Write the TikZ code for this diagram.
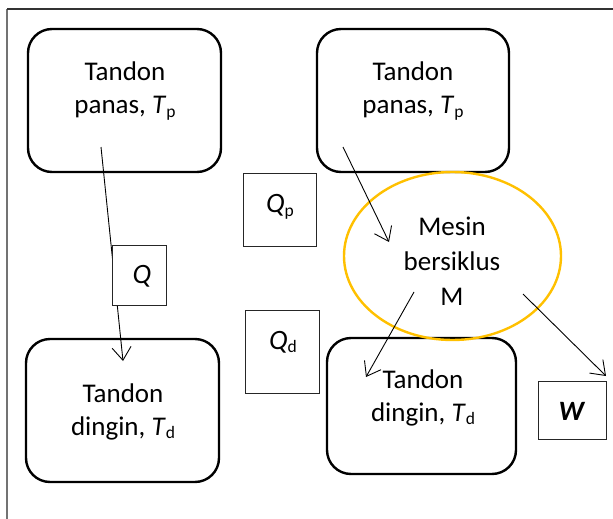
\documentclass[tikz,border=0pt]{standalone}
\usepackage{fontspec}
\setmainfont{Carlito}
\usetikzlibrary{shapes.geometric,arrows.meta}
\definecolor{gold}{HTML}{FFC000}
\newcommand\subtxt[1]{\raisebox{-0.12em}{\fontsize{17.5}{17.5}\selectfont #1}}
\begin{document}
\begin{tikzpicture}[x=1pt,y=-1pt,
  roundbox/.style={draw=black, line width=2.4pt, rounded corners=24pt, rectangle, inner sep=0pt},
  sqbox/.style={draw=black!85, line width=1pt, fill=white, rectangle, inner sep=0pt},
  lbl/.style={font=\fontsize{27}{33}\selectfont, align=center, inner sep=0pt},
  qlbl/.style={font=\fontsize{28}{33}\selectfont, align=center, inner sep=0pt},
  flow/.style={line width=0.9pt, -{Straight Barb[length=13pt,width=19pt]}}]
\path[use as bounding box] (0,0) rectangle (613,519);
% frame
\coordinate (fbl) at (7,519);
\coordinate (ftl) at (7,9);
\coordinate (ftr) at (613,9);
\draw[black!55, line width=1.5pt] (fbl) -- (ftl);
\draw[black!80, line width=2pt] (ftl) -- (ftr);
% reservoirs
\node[roundbox, minimum width=193pt, minimum height=143pt] (hotL) at (124.5,100.5) {};
\node[roundbox, minimum width=192pt, minimum height=143pt] (hotR) at (413,100.5) {};
\node[roundbox, minimum width=193pt, minimum height=143pt] (coldL) at (122.5,410.5) {};
\node[roundbox, minimum width=189pt, minimum height=136pt] (coldR) at (421.5,406) {};
\node[lbl] (tHotL) at (125,91) {Tandon\\panas, \textit{T}\subtxt{p}};
\node[lbl] (tHotR) at (413,91) {Tandon\\panas, \textit{T}\subtxt{p}};
\node[lbl] (tColdL) at (123,412) {Tandon\\dingin, \textit{T}\subtxt{d}};
\node[lbl] (tColdR) at (423,398) {Tandon\\dingin, \textit{T}\subtxt{d}};
% engine
\node[ellipse, draw=gold, line width=2.4pt, minimum width=217pt, minimum height=168pt, inner sep=0pt] (eng) at (452.5,256) {};
\node[lbl, font=\fontsize{27}{35}\selectfont] (tEng) at (452,261) {Mesin\\bersiklus\\M};
% arrows
\coordinate (a1s) at (101,147); \coordinate (a1e) at (123,361);
\coordinate (a2s) at (343,147); \coordinate (a2e) at (389,242);
\coordinate (a3s) at (414,292); \coordinate (a3e) at (366,377);
\coordinate (a4s) at (523,294); \coordinate (a4e) at (606,376);
\draw[flow] (a1s) -- (a1e);
\draw[flow] (a2s) -- (a2e);
\draw[flow] (a3s) -- (a3e);
\draw[flow] (a4s) -- (a4e);
% quantity boxes
\node[sqbox, minimum width=54pt, minimum height=60pt] (qbox) at (139,275) {};
\node[qlbl] (tq) at (142,276) {\textit{Q}};
\node[sqbox, minimum width=73pt, minimum height=73pt] (qpbox) at (279.5,209.5) {};
\node[qlbl] (tqp) at (280,207) {\textit{Q}\subtxt{p}};
\node[sqbox, minimum width=74pt, minimum height=83pt] (qdbox) at (282,351.5) {};
\node[qlbl] (tqd) at (283,342) {\textit{Q}\subtxt{d}};
\node[sqbox, minimum width=68pt, minimum height=58pt] (wbox) at (572,410) {};
\node[qlbl] (tw) at (572,411) {\textbf{\textit{W}}};
\end{tikzpicture}
\end{document}
